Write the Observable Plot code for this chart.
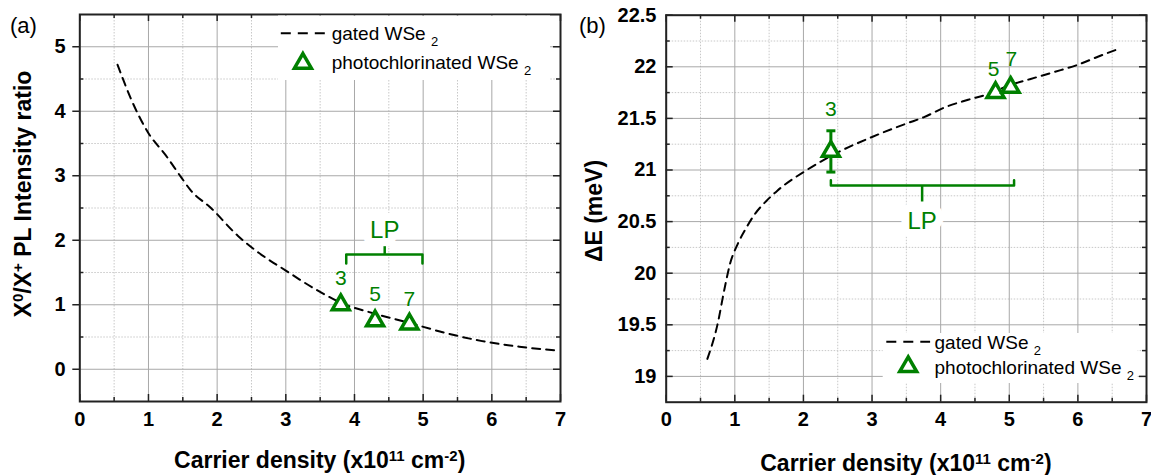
<!DOCTYPE html>
<html>
<head>
<meta charset="utf-8">
<script src="https://cdn.jsdelivr.net/npm/d3@7"></script>
<script src="https://cdn.jsdelivr.net/npm/@observablehq/plot@0.6"></script>
<style>
  body { margin: 0; background: #fff; }
  #wrap { position: relative; width: 1151px; height: 475px; overflow: hidden; background: #fff; }
</style>
</head>
<body>
<div id="wrap"></div>
<script>
// ---------- data ----------
const xMajor = [0, 1, 2, 3, 4, 5, 6, 7];
const xMinor = [0.5, 1.5, 2.5, 3.5, 4.5, 5.5, 6.5];
const yMajorA = [0, 1, 2, 3, 4, 5];
const yMinorA = [0.5, 1.5, 2.5, 3.5, 4.5];
const yMajorB = [19, 19.5, 20, 20.5, 21, 21.5, 22, 22.5];
const yMinorB = [19.25, 19.75, 20.25, 20.75, 21.25, 21.75, 22.25];

// (a) gated WSe2: X0/X+ ratio vs carrier density
const gatedAx = [0.55, 0.75, 1.0, 1.25, 1.48, 1.61, 1.91, 2.3, 2.6, 3.0, 3.4, 3.85, 4.3, 4.76, 5.3, 5.84, 6.4, 6.97];
const gatedAy = [4.72, 4.18, 3.66, 3.32, 2.97, 2.78, 2.50, 2.07, 1.81, 1.53, 1.26, 1.01, 0.86, 0.73, 0.57, 0.44, 0.35, 0.29];
// (b) gated WSe2: Delta E vs carrier density
const gatedBx = [0.60, 0.75, 0.85, 0.93, 1.04, 1.15, 1.3, 1.46, 1.62, 2.05, 2.5, 3.0, 3.5, 3.75, 4.07, 4.4, 4.71, 5.0, 5.3, 5.66, 6.0, 6.3, 6.62];
const gatedBy = [19.17, 19.51, 19.85, 20.09, 20.28, 20.42, 20.58, 20.70, 20.80, 21.00, 21.17, 21.32, 21.45, 21.51, 21.61, 21.68, 21.74, 21.82, 21.88, 21.95, 22.02, 22.10, 22.18];

// photochlorinated samples
const sampleNames = ["3", "5", "7"];
const photoAx = [3.8, 4.3, 4.8];
const photoAy = [1.0, 0.75, 0.7];
const photoBx = [2.4, 4.8, 5.02];
const photoBy = [21.18, 21.75, 21.8];
const photoBerr = [0.2, 0, 0];
// sample-number label anchors
const labelAx = [3.8, 4.3, 4.8];
const labelAy = [1.41, 1.16, 1.08];
const labelBx = [2.4, 4.77, 5.03];
const labelBy = [21.59, 21.98, 22.07];

// "LP" brackets
const bracketA = {x1: 3.88, x2: 4.99, xMid: 4.44, yEnd: 1.64, yBar: 1.78, yTip: 1.9, yText: 2.16};
const bracketB = {x1: 2.4, x2: 5.07, xMid: 3.73, yEnd: 20.9, yBar: 20.85, yTip: 20.69, yText: 20.5};

// ---------- styling ----------
const FONT = '"Liberation Sans", Arial, Helvetica, sans-serif';
const GREEN = "#008000";
const H = 475;
const R = 6.3;
const ident = d => d;

const hbar = {draw(ctx, size) { const r = Math.sqrt(size / Math.PI); ctx.moveTo(-r, 0); ctx.lineTo(r, 0); }};

function bracketPts(b) {
  return [
    {x: b.x1, y: b.yEnd}, {x: b.x1, y: b.yBar},
    {x: b.x2, y: b.yBar}, {x: b.x2, y: b.yEnd}
  ];
}

function dataMarks(gx, gy, px, py, perr, lx, ly, br) {
  const gated = gx.map((x, i) => ({x, y: gy[i]}));
  const photo = px.map((x, i) => ({x, y: py[i], e: perr ? perr[i] : 0}));
  const labels = lx.map((x, i) => ({x, y: ly[i], t: sampleNames[i]}));
  const errs = photo.filter(d => d.e > 0);
  return [
    Plot.line(gated, {x: "x", y: "y", curve: "monotone-x", stroke: "black", strokeWidth: 2, strokeDasharray: "8,6"}),
    Plot.line(bracketPts(br), {x: "x", y: "y", stroke: GREEN, strokeWidth: 2.5, strokeLinejoin: "round"}),
    Plot.ruleX([br], {x: "xMid", y1: "yBar", y2: "yTip", stroke: GREEN, strokeWidth: 2.5}),
    Plot.text([br], {x: "xMid", y: "yText", text: () => "LP", fill: GREEN, fontSize: 24,
      stroke: "white", strokeWidth: 16, paintOrder: "stroke", strokeLinejoin: "round"}),
    Plot.ruleX(errs, {x: "x", y1: d => d.y - d.e, y2: d => d.y + d.e, stroke: GREEN, strokeWidth: 3}),
    Plot.dot(errs, {x: "x", y: d => d.y + d.e, symbol: hbar, r: 4.5, stroke: GREEN, fill: "none", strokeWidth: 3}),
    Plot.dot(errs, {x: "x", y: d => d.y - d.e, symbol: hbar, r: 4.5, stroke: GREEN, fill: "none", strokeWidth: 3}),
    Plot.dot(photo, {x: "x", y: "y", symbol: "triangle", r: R, stroke: GREEN, fill: "white", strokeWidth: 3.5}),
    Plot.text(labels, {x: "x", y: "y", text: "t", fill: GREEN, fontSize: 21})
  ];
}

function buildPanel(o) {
  const innerW = o.width - o.ml - o.mr;
  const innerH = H - o.mt - o.mb;
  const tk = {stroke: "#222", strokeWidth: 1.5};
  const lab = {fontSize: 20, fontWeight: "bold", fill: "black", fontFamily: FONT};
  const marks = [
    Plot.ruleX(xMinor, {x: ident, stroke: "#c8c8c8", strokeDasharray: "1.5,1.5"}),
    Plot.ruleY(o.yMinor, {y: ident, stroke: "#c8c8c8", strokeDasharray: "1.5,1.5"}),
    Plot.ruleX(xMajor, {x: ident, stroke: "#a8a8a8"}),
    Plot.ruleY(o.yMajor, {y: ident, stroke: "#a8a8a8"}),
    ...o.marks,
    Plot.tickX(xMajor, {x: ident, insetTop: innerH - 7, ...tk}),
    Plot.tickX(xMajor, {x: ident, insetBottom: innerH - 7, ...tk}),
    Plot.tickX(xMinor, {x: ident, insetTop: innerH - 4, ...tk}),
    Plot.tickX(xMinor, {x: ident, insetBottom: innerH - 4, ...tk}),
    Plot.tickY(o.yMajor, {y: ident, insetLeft: innerW - 7, ...tk}),
    Plot.tickY(o.yMinor, {y: ident, insetLeft: innerW - 4, ...tk}),
    Plot.tickY(o.yMinor, {y: ident, insetRight: innerW - 4, ...tk}),
    o.leftOut
      ? Plot.tickY(o.yMajor, {y: ident, insetLeft: -7, insetRight: innerW, ...tk})
      : Plot.tickY(o.yMajor, {y: ident, insetRight: innerW - 7, ...tk}),
    Plot.frame({stroke: "#222", strokeWidth: 2}),
    Plot.text(xMajor, {x: ident, text: d => String(d), frameAnchor: "bottom", lineAnchor: "top", dy: 10, ...lab}),
    Plot.text(o.yMajor, {y: ident, text: d => String(d), frameAnchor: "left", textAnchor: "end", dx: -o.yPad, ...lab})
  ];
  const svg = Plot.plot({
    width: o.width, height: H,
    marginLeft: o.ml, marginRight: o.mr, marginTop: o.mt, marginBottom: o.mb,
    x: {domain: [0, 7], axis: null}, y: {domain: o.yDomain, axis: null},
    style: {fontFamily: FONT, background: "transparent", overflow: "visible", color: "black"},
    marks
  });
  svg.style.position = "absolute";
  svg.style.left = o.left + "px";
  svg.style.top = "0px";
  return svg;
}

const wrap = document.getElementById("wrap");

wrap.appendChild(buildPanel({
  left: 0, width: 580, ml: 79.3, mr: 20, mt: 14, mb: 74, yPad: 14.3,
  yDomain: [-0.5, 5.5], yMajor: yMajorA, yMinor: yMinorA, leftOut: true,
  marks: dataMarks(gatedAx, gatedAy, photoAx, photoAy, null, labelAx, labelAy, bracketA)
}));

wrap.appendChild(buildPanel({
  left: 580, width: 571, ml: 85.7, mr: 5, mt: 14.7, mb: 73.3, yPad: 9.7,
  yDomain: [18.75, 22.5], yMajor: yMajorB, yMinor: yMinorB, leftOut: false,
  marks: dataMarks(gatedBx, gatedBy, photoBx, photoBy, photoBerr, labelBx, labelBy, bracketB)
}));

// ---------- overlay: legends, titles, panel letters ----------
const tri = d3.symbol(d3.symbolTriangle, Math.PI * R * R)();
function legend(box, dashY, dashX1, dashX2, textX, base1, triX, triY, base2) {
  return `
  <rect x="${box[0]}" y="${box[1]}" width="${box[2]}" height="${box[3]}" fill="white"/>
  <line x1="${dashX1}" x2="${dashX2}" y1="${dashY}" y2="${dashY}" stroke="black" stroke-width="2" stroke-dasharray="10,7"/>
  <text x="${textX}" y="${base1}" font-size="19">gated WSe <tspan font-size="13" dy="6">2</tspan></text>
  <path d="${tri}" transform="translate(${triX},${triY})" fill="white" stroke="${GREEN}" stroke-width="3.5"/>
  <text x="${textX}" y="${base2}" font-size="19">photochlorinated WSe <tspan font-size="13" dy="6">2</tspan></text>`;
}
const xTitle = `Carrier density (x10<tspan font-size="15" dy="-7">11</tspan><tspan dy="7"> cm</tspan><tspan font-size="15" dy="-7">-2</tspan><tspan dy="7">)</tspan>`;

const overlay = `
<svg width="1151" height="475" style="position:absolute;left:0;top:0" font-family='${FONT}' fill="black">
  ${legend([278, 15.5, 272, 64.5], 33.3, 280.8, 326.9, 331.7, 40, 302.9, 63.3, 68.5)}
  ${legend([882.7, 333, 255, 50], 341.7, 886.3, 930.1, 934.5, 349, 908.2, 366.7, 374.3)}
  <text x="10" y="33" font-size="22">(a)</text>
  <text x="579" y="33" font-size="22">(b)</text>
  <text x="319.7" y="468" text-anchor="middle" font-size="23" font-weight="bold">${xTitle}</text>
  <text x="905.9" y="471" text-anchor="middle" font-size="23" font-weight="bold">${xTitle}</text>
  <text transform="translate(31.4,194) rotate(-90)" text-anchor="middle" font-size="23" font-weight="bold">X<tspan font-size="15" dy="-8">0</tspan><tspan dy="8">/X</tspan><tspan font-size="15" dy="-8">+</tspan><tspan dy="8"> PL Intensity ratio</tspan></text>
  <text transform="translate(602,211) rotate(-90)" text-anchor="middle" font-size="23" font-weight="bold">ΔE (meV)</text>
</svg>`;
wrap.insertAdjacentHTML("beforeend", overlay);
</script>
</body>
</html>
